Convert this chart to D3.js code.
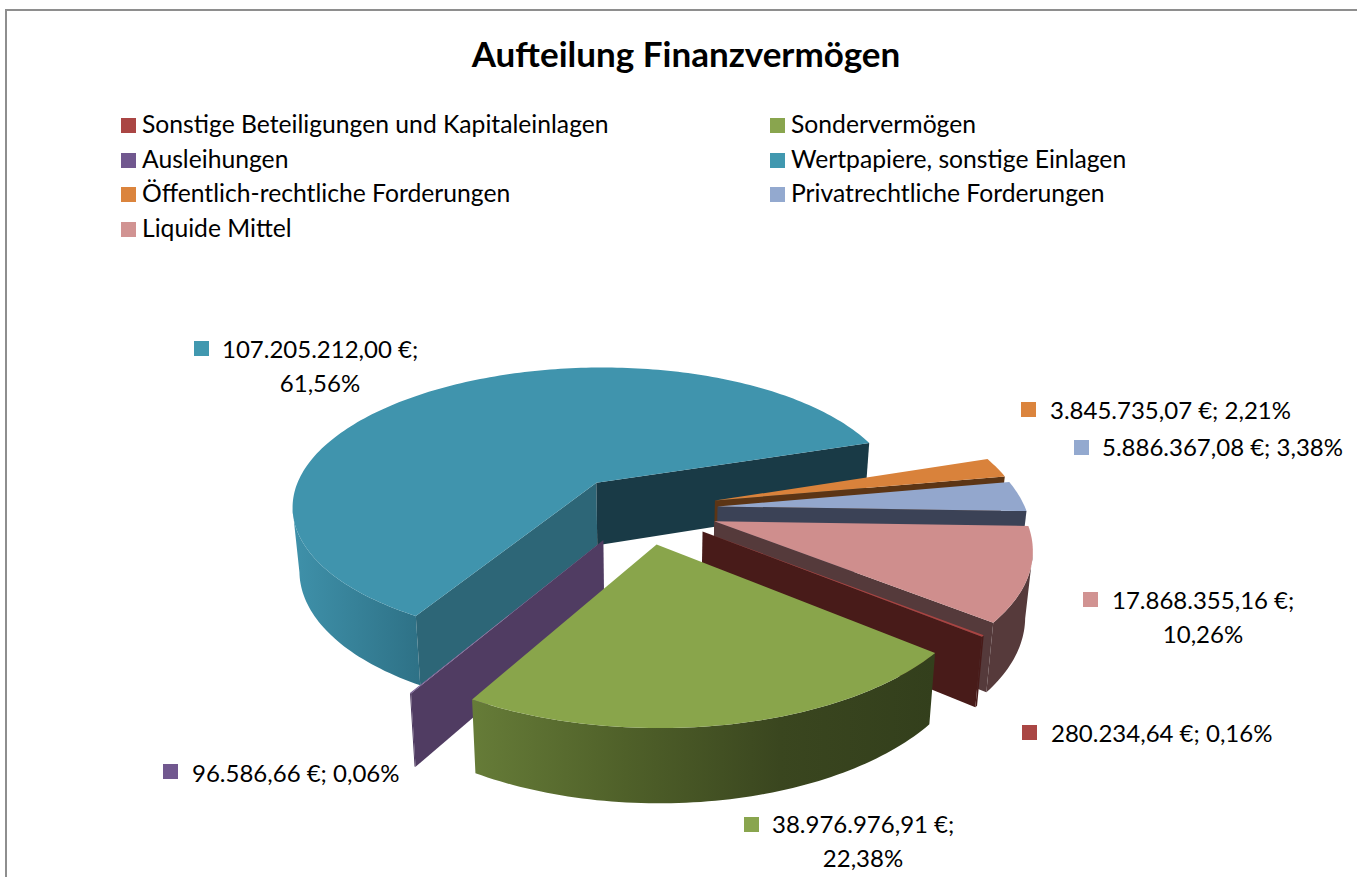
<!DOCTYPE html>
<html>
<head>
<meta charset="utf-8">
<script src="https://cdn.jsdelivr.net/npm/d3@7"></script>
<style>
  html, body { margin: 0; padding: 0; background: #fff; overflow: hidden; }
  text { font-family: Lato, "Open Sans", sans-serif; fill: #000; }
</style>
</head>
<body>
<script>
// Chart data, in the order the sheet had it (legend order)
const categories = [
    'Sonstige Beteiligungen und Kapitaleinlagen',
    'Sondervermögen',
    'Ausleihungen',
    'Wertpapiere, sonstige Einlagen',
    'Öffentlich-rechtliche Forderungen',
    'Privatrechtliche Forderungen',
    'Liquide Mittel'
];
const values = [280234.64, 38976976.91, 96586.66, 107205212.00, 3845735.07, 5886367.08, 17868355.16];

// Slice colours: top face, the two cut faces and the outer wall gradient
const topColors = ['#a94442', '#89a54b', '#71588f', '#4094ad', '#d9823b', '#93a7cd', '#cf8e8d'];
const startFaceColors = ['#481b19', '#333f1c', '#503c62', '#2d6677', '#5c3515', '#3b4256', '#553a3b'];
const endFaceColors = ['#481b19', '#333f1c', '#503c62', '#193a46', '#5c3515', '#3b4256', '#553a3b'];
const wallColors = [
    ['#481b19', '#481b19'], ['#667c38', '#4f6029', '#3a461f', '#333f1c'], ['#503c62', '#503c62'], ['#3f91aa', '#2e7186'],
    ['#5c3515', '#5c3515'], ['#3b4256', '#3b4256'], ['#563a3b', '#563a3b']
];
const legendColors = ['#aa4644', '#89a54e', '#71588f', '#4198af', '#db843d', '#93a9cf', '#d19392'];

// Label anchors: [swatch x, swatch y, text x, first baseline, centre x of second line]
const labelPos = [
    [1022, 725, 1051, 742, null],
    [744, 817, 772, 833, 863],
    [163, 764, 192, 782, null],
    [194, 341, 222, 358, 320],
    [1021, 402, 1050, 419, null],
    [1074, 440, 1102, 456, null],
    [1083, 592, 1112, 609, 1203]
];

const width = 1357, height = 877;
const svg = d3.select('body').append('svg').attr('width', width).attr('height', height);

// Frame
svg.append('path').attr('d', 'M6,877V10H1357').attr('fill', 'none').attr('stroke', '#8e8e8e').attr('stroke-width', 2);

// Title
svg.append('text').attr('x', 686).attr('y', 67).attr('text-anchor', 'middle')
    .attr('font-size', 35).attr('font-weight', 'bold').text('Aufteilung Finanzvermögen');

// Legend, filled row by row in two columns
const legend = svg.append('g');
const legendColX = [121, 770];
const legendRowY = [118, 153, 187, 222];
categories.forEach((name, i) => {
    const x = legendColX[i % 2];
    const y = legendRowY[Math.floor(i / 2)];
    legend.append('rect').attr('x', x).attr('y', y).attr('width', 15).attr('height', 15).attr('fill', legendColors[i]);
    legend.append('text').attr('x', x + 21).attr('y', y + 15).attr('font-size', 24.7).text(name);
});

// Pie: d3.pie gives the angles, then every point goes through a perspective ground projection
const pieStart = 128.8 * Math.PI / 180;
const arcs = d3.pie().sort(null).value(d => d).startAngle(pieStart).endAngle(pieStart + 2 * Math.PI)(values);

const cx = 642.5, cy = 509;    // pie centre on screen
const rx = 308, ry = 141.5;    // radii before perspective
const persp = 0.16;            // perspective strength
const explode = 0.245;         // slice explosion, fraction of radius
const depth = 65, shrink = 0.02;

function project(u, v, bottom) {
    const w = (1 - persp * v) * (bottom ? 1 + shrink : 1);
    return [cx + rx * u / w, cy + (ry * v + (bottom ? depth : 0)) / w];
}

function rimPoint(arc, angle, bottom) {
    const mid = (arc.startAngle + arc.endAngle) / 2;
    const u = explode * Math.sin(mid) + Math.sin(angle);
    const v = -explode * Math.cos(mid) - Math.cos(angle);
    return project(u, v, bottom);
}

function apexPoint(arc, bottom) {
    const mid = (arc.startAngle + arc.endAngle) / 2;
    return project(explode * Math.sin(mid), -explode * Math.cos(mid), bottom);
}

function rimPoints(arc, bottom) {
    const n = Math.max(2, Math.ceil((arc.endAngle - arc.startAngle) / 0.02));
    return d3.range(n + 1).map(i => rimPoint(arc, arc.startAngle + (arc.endAngle - arc.startAngle) * i / n, bottom));
}

const line = d3.line().curve(d3.curveLinear);
const defs = svg.append('defs');
const pieGroup = svg.append('g');

// Painter's order, back to front
const drawOrder = [3, 4, 5, 6, 0, 2, 1];

drawOrder.forEach(i => {
    const arc = arcs[i];
    const g = pieGroup.append('g');
    const top = rimPoints(arc, false);
    const bottom = rimPoints(arc, true);

    // Outer wall: only the part of the rim that faces the viewer (x falls as the angle grows)
    const facing = d3.range(top.length - 1).filter(k => top[k + 1][0] < top[k][0]);
    if (facing.length) {
        const first = facing[0], last = facing[facing.length - 1] + 1;
        const wallPts = top.slice(first, last + 1).concat(bottom.slice(first, last + 1).reverse());
        const gradId = 'wall' + i;
        const grad = defs.append('linearGradient').attr('id', gradId).attr('gradientUnits', 'userSpaceOnUse')
            .attr('x1', d3.min(wallPts, p => p[0])).attr('x2', d3.max(wallPts, p => p[0]))
            .attr('y1', 0).attr('y2', 0);
        wallColors[i].forEach((c, k, all) => {
            grad.append('stop').attr('offset', k / (all.length - 1)).attr('stop-color', c);
        });
        g.append('path').attr('d', line(wallPts) + 'Z').attr('fill', `url(#${gradId})`);
    }

    // Cut faces, only when turned towards the viewer
    if (Math.sin(arc.startAngle) < 0) {
        g.append('path').attr('fill', startFaceColors[i])
            .attr('d', line([apexPoint(arc, false), top[0], bottom[0], apexPoint(arc, true)]) + 'Z');
    }
    if (Math.sin(arc.endAngle) > 0) {
        g.append('path').attr('fill', endFaceColors[i])
            .attr('d', line([apexPoint(arc, false), top[top.length - 1], bottom[bottom.length - 1], apexPoint(arc, true)]) + 'Z');
    }

    // Top face
    g.append('path').attr('fill', topColors[i])
        .attr('d', line([apexPoint(arc, false)].concat(top)) + 'Z');
});

// Data labels, German number format
const de = d3.formatLocale({ decimal: ',', thousands: '.', grouping: [3], currency: ['', ' €'] });
const fmtValue = de.format('$,.2f');
const fmtPct = de.format('.2%');
const total = d3.sum(values);
const labels = svg.append('g');

values.forEach((v, i) => {
    const [sx, sy, tx, ty, cx2] = labelPos[i];
    labels.append('rect').attr('x', sx).attr('y', sy).attr('width', 15).attr('height', 15).attr('fill', legendColors[i]);
    const a = fmtValue(v) + ';';
    const b = fmtPct(v / total);
    if (cx2 === null) {
        labels.append('text').attr('x', tx).attr('y', ty).attr('font-size', 24).text(a + ' ' + b);
    } else {
        labels.append('text').attr('x', tx).attr('y', ty).attr('font-size', 24).text(a);
        labels.append('text').attr('x', cx2).attr('y', ty + 34).attr('text-anchor', 'middle').attr('font-size', 24).text(b);
    }
});
</script>
</body>
</html>
